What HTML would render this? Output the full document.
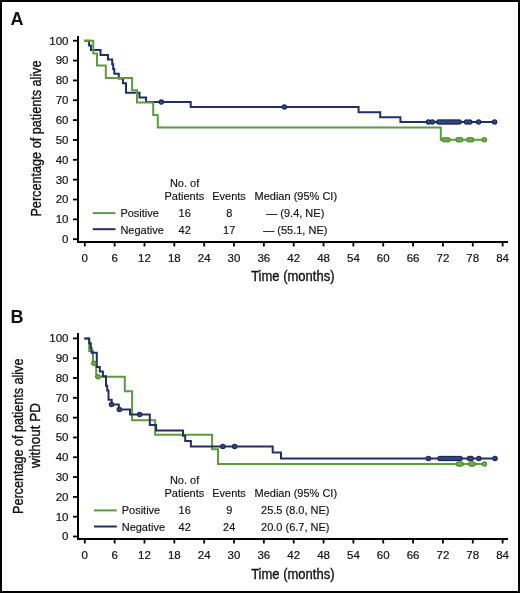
<!DOCTYPE html>
<html><head><meta charset="utf-8"><style>
html,body{margin:0;padding:0;background:#fff;}
svg{display:block;}
text{font-family:"Liberation Sans",sans-serif;fill:#111;}
.lab{font-size:18px;font-weight:bold;}
.tl{font-size:11.5px;stroke:#111;stroke-width:0.2px;}
.lg{font-size:11px;stroke:#111;stroke-width:0.15px;}
.at{font-size:14px;stroke:#111;stroke-width:0.35px;}
.ax{stroke:#000;stroke-width:2;fill:none;}
.tk{stroke:#000;stroke-width:1.8;fill:none;}
.g{filter:blur(0.4px);}
</style></head><body>
<svg width="520" height="593" viewBox="0 0 520 593">
<rect x="0" y="0" width="520" height="593" fill="#fff"/>
<g class="g">
<text x="10.6" y="24.8" class="lab">A</text>
<path d="M78,36V243M77,242H508" class="ax"/>
<path d="M73,40.70H77" class="tk"/>
<text x="68.5" y="44.60" class="tl" text-anchor="end">100</text>
<path d="M73,60.55H77" class="tk"/>
<text x="68.5" y="64.45" class="tl" text-anchor="end">90</text>
<path d="M73,80.40H77" class="tk"/>
<text x="68.5" y="84.30" class="tl" text-anchor="end">80</text>
<path d="M73,100.25H77" class="tk"/>
<text x="68.5" y="104.15" class="tl" text-anchor="end">70</text>
<path d="M73,120.10H77" class="tk"/>
<text x="68.5" y="124.00" class="tl" text-anchor="end">60</text>
<path d="M73,139.95H77" class="tk"/>
<text x="68.5" y="143.85" class="tl" text-anchor="end">50</text>
<path d="M73,159.80H77" class="tk"/>
<text x="68.5" y="163.70" class="tl" text-anchor="end">40</text>
<path d="M73,179.65H77" class="tk"/>
<text x="68.5" y="183.55" class="tl" text-anchor="end">30</text>
<path d="M73,199.50H77" class="tk"/>
<text x="68.5" y="203.40" class="tl" text-anchor="end">20</text>
<path d="M73,219.35H77" class="tk"/>
<text x="68.5" y="223.25" class="tl" text-anchor="end">10</text>
<path d="M73,239.20H77" class="tk"/>
<text x="68.5" y="243.10" class="tl" text-anchor="end">0</text>
<path d="M84.80,243V246.5" class="tk"/>
<text x="84.80" y="261.5" class="tl" text-anchor="middle">0</text>
<path d="M114.64,243V246.5" class="tk"/>
<text x="114.64" y="261.5" class="tl" text-anchor="middle">6</text>
<path d="M144.49,243V246.5" class="tk"/>
<text x="144.49" y="261.5" class="tl" text-anchor="middle">12</text>
<path d="M174.33,243V246.5" class="tk"/>
<text x="174.33" y="261.5" class="tl" text-anchor="middle">18</text>
<path d="M204.18,243V246.5" class="tk"/>
<text x="204.18" y="261.5" class="tl" text-anchor="middle">24</text>
<path d="M234.02,243V246.5" class="tk"/>
<text x="234.02" y="261.5" class="tl" text-anchor="middle">30</text>
<path d="M263.86,243V246.5" class="tk"/>
<text x="263.86" y="261.5" class="tl" text-anchor="middle">36</text>
<path d="M293.71,243V246.5" class="tk"/>
<text x="293.71" y="261.5" class="tl" text-anchor="middle">42</text>
<path d="M323.55,243V246.5" class="tk"/>
<text x="323.55" y="261.5" class="tl" text-anchor="middle">48</text>
<path d="M353.40,243V246.5" class="tk"/>
<text x="353.40" y="261.5" class="tl" text-anchor="middle">54</text>
<path d="M383.24,243V246.5" class="tk"/>
<text x="383.24" y="261.5" class="tl" text-anchor="middle">60</text>
<path d="M413.08,243V246.5" class="tk"/>
<text x="413.08" y="261.5" class="tl" text-anchor="middle">66</text>
<path d="M442.93,243V246.5" class="tk"/>
<text x="442.93" y="261.5" class="tl" text-anchor="middle">72</text>
<path d="M472.77,243V246.5" class="tk"/>
<text x="472.77" y="261.5" class="tl" text-anchor="middle">78</text>
<path d="M502.62,243V246.5" class="tk"/>
<text x="502.62" y="261.5" class="tl" text-anchor="middle">84</text>
<text transform="translate(292.8,280.8) scale(0.93,1)" class="at" text-anchor="middle">Time (months)</text>
<text transform="translate(40.5,138.5) rotate(-90) scale(0.8678,1)" class="at" style="font-size:14.6px" text-anchor="middle">Percentage of patients alive</text>
<text x="184.6" y="186.7" class="lg" text-anchor="middle">No. of</text>
<text x="184.4" y="199.6" class="lg" text-anchor="middle">Patients</text>
<text x="229" y="199.6" class="lg" text-anchor="middle">Events</text>
<text x="295.8" y="199.6" class="lg" text-anchor="middle">Median (95% CI)</text>
<path d="M92.7,213.1H115.5" stroke="#5e9a40" stroke-width="2" fill="none"/>
<path d="M92.7,229.2H115.5" stroke="#232f62" stroke-width="2" fill="none"/>
<text x="120.4" y="216.5" class="lg">Positive</text>
<text x="120.4" y="233.5" class="lg">Negative</text>
<text x="184.7" y="216.5" class="lg" text-anchor="middle">16</text>
<text x="229.2" y="216.5" class="lg" text-anchor="middle">8</text>
<text x="295.3" y="216.5" class="lg" text-anchor="middle">— (9.4, NE)</text>
<text x="184.7" y="233.5" class="lg" text-anchor="middle">42</text>
<text x="229.2" y="233.5" class="lg" text-anchor="middle">17</text>
<text x="295.3" y="233.5" class="lg" text-anchor="middle">— (55.1, NE)</text>
<path d="M84.3,40.8H89.1V45.4H90.9V50.1H100.5V54.9H108.0V59.6H112.2V64.3H113.2V69.1H114.3V73.8H118.8V78.5H123.0V83.2H126.0V88.0H126.0V92.7H139.5V97.4H146.1V102.1H190.7V107.0H358.6V112.2H380.2V117.2H400.4V121.9H494.5" stroke="#232f62" stroke-width="2" fill="none" stroke-linejoin="miter" stroke-linecap="butt"/>
<path d="M84.3,40.8H93.3V53.4H97.0V65.5H105.8V77.9H132.1V90.3H137.0V102.6H153.2V115.0H157.8V127.5H440.8V139.8H484.3" stroke="#5e9a40" stroke-width="2" fill="none" stroke-linejoin="miter" stroke-linecap="butt"/>
<circle cx="161.30" cy="102.1" r="2.75" fill="#1b2655"/>
<circle cx="284.30" cy="107.0" r="2.75" fill="#1b2655"/>
<circle cx="428.50" cy="121.9" r="2.75" fill="#1b2655"/>
<circle cx="432.30" cy="121.9" r="2.75" fill="#1b2655"/>
<circle cx="438.90" cy="121.9" r="2.75" fill="#1b2655"/>
<circle cx="441.42" cy="121.9" r="2.75" fill="#1b2655"/>
<circle cx="443.95" cy="121.9" r="2.75" fill="#1b2655"/>
<circle cx="446.47" cy="121.9" r="2.75" fill="#1b2655"/>
<circle cx="449.00" cy="121.9" r="2.75" fill="#1b2655"/>
<circle cx="451.52" cy="121.9" r="2.75" fill="#1b2655"/>
<circle cx="454.05" cy="121.9" r="2.75" fill="#1b2655"/>
<circle cx="456.57" cy="121.9" r="2.75" fill="#1b2655"/>
<circle cx="459.10" cy="121.9" r="2.75" fill="#1b2655"/>
<circle cx="466.50" cy="121.9" r="2.75" fill="#1b2655"/>
<circle cx="469.80" cy="121.9" r="2.75" fill="#1b2655"/>
<circle cx="478.60" cy="121.9" r="2.75" fill="#1b2655"/>
<circle cx="494.60" cy="121.9" r="2.75" fill="#1b2655"/>
<circle cx="444.30" cy="139.8" r="2.75" fill="#4a8a30"/>
<circle cx="447.80" cy="139.8" r="2.75" fill="#4a8a30"/>
<circle cx="458.20" cy="139.8" r="2.75" fill="#4a8a30"/>
<circle cx="460.50" cy="139.8" r="2.75" fill="#4a8a30"/>
<circle cx="469.00" cy="139.8" r="2.75" fill="#4a8a30"/>
<circle cx="471.50" cy="139.8" r="2.75" fill="#4a8a30"/>
<circle cx="484.30" cy="139.8" r="2.75" fill="#4a8a30"/>
<circle cx="161.30" cy="102.1" r="1.7" fill="#33477f"/>
<circle cx="284.30" cy="107.0" r="1.7" fill="#33477f"/>
<circle cx="428.50" cy="121.9" r="1.7" fill="#33477f"/>
<circle cx="432.30" cy="121.9" r="1.7" fill="#33477f"/>
<circle cx="438.90" cy="121.9" r="1.7" fill="#33477f"/>
<circle cx="441.42" cy="121.9" r="1.7" fill="#33477f"/>
<circle cx="443.95" cy="121.9" r="1.7" fill="#33477f"/>
<circle cx="446.47" cy="121.9" r="1.7" fill="#33477f"/>
<circle cx="449.00" cy="121.9" r="1.7" fill="#33477f"/>
<circle cx="451.52" cy="121.9" r="1.7" fill="#33477f"/>
<circle cx="454.05" cy="121.9" r="1.7" fill="#33477f"/>
<circle cx="456.57" cy="121.9" r="1.7" fill="#33477f"/>
<circle cx="459.10" cy="121.9" r="1.7" fill="#33477f"/>
<circle cx="466.50" cy="121.9" r="1.7" fill="#33477f"/>
<circle cx="469.80" cy="121.9" r="1.7" fill="#33477f"/>
<circle cx="478.60" cy="121.9" r="1.7" fill="#33477f"/>
<circle cx="494.60" cy="121.9" r="1.7" fill="#33477f"/>
<circle cx="444.30" cy="139.8" r="1.7" fill="#6fb04c"/>
<circle cx="447.80" cy="139.8" r="1.7" fill="#6fb04c"/>
<circle cx="458.20" cy="139.8" r="1.7" fill="#6fb04c"/>
<circle cx="460.50" cy="139.8" r="1.7" fill="#6fb04c"/>
<circle cx="469.00" cy="139.8" r="1.7" fill="#6fb04c"/>
<circle cx="471.50" cy="139.8" r="1.7" fill="#6fb04c"/>
<circle cx="484.30" cy="139.8" r="1.7" fill="#6fb04c"/>
<text x="10.6" y="323.0" class="lab">B</text>
<path d="M78,333V540M77,539H508" class="ax"/>
<path d="M73,338.40H77" class="tk"/>
<text x="68.5" y="342.30" class="tl" text-anchor="end">100</text>
<path d="M73,358.21H77" class="tk"/>
<text x="68.5" y="362.11" class="tl" text-anchor="end">90</text>
<path d="M73,378.02H77" class="tk"/>
<text x="68.5" y="381.92" class="tl" text-anchor="end">80</text>
<path d="M73,397.83H77" class="tk"/>
<text x="68.5" y="401.73" class="tl" text-anchor="end">70</text>
<path d="M73,417.64H77" class="tk"/>
<text x="68.5" y="421.54" class="tl" text-anchor="end">60</text>
<path d="M73,437.45H77" class="tk"/>
<text x="68.5" y="441.35" class="tl" text-anchor="end">50</text>
<path d="M73,457.26H77" class="tk"/>
<text x="68.5" y="461.16" class="tl" text-anchor="end">40</text>
<path d="M73,477.07H77" class="tk"/>
<text x="68.5" y="480.97" class="tl" text-anchor="end">30</text>
<path d="M73,496.88H77" class="tk"/>
<text x="68.5" y="500.78" class="tl" text-anchor="end">20</text>
<path d="M73,516.69H77" class="tk"/>
<text x="68.5" y="520.59" class="tl" text-anchor="end">10</text>
<path d="M73,536.50H77" class="tk"/>
<text x="68.5" y="540.40" class="tl" text-anchor="end">0</text>
<path d="M84.80,540V543.5" class="tk"/>
<text x="84.80" y="558.8" class="tl" text-anchor="middle">0</text>
<path d="M114.64,540V543.5" class="tk"/>
<text x="114.64" y="558.8" class="tl" text-anchor="middle">6</text>
<path d="M144.49,540V543.5" class="tk"/>
<text x="144.49" y="558.8" class="tl" text-anchor="middle">12</text>
<path d="M174.33,540V543.5" class="tk"/>
<text x="174.33" y="558.8" class="tl" text-anchor="middle">18</text>
<path d="M204.18,540V543.5" class="tk"/>
<text x="204.18" y="558.8" class="tl" text-anchor="middle">24</text>
<path d="M234.02,540V543.5" class="tk"/>
<text x="234.02" y="558.8" class="tl" text-anchor="middle">30</text>
<path d="M263.86,540V543.5" class="tk"/>
<text x="263.86" y="558.8" class="tl" text-anchor="middle">36</text>
<path d="M293.71,540V543.5" class="tk"/>
<text x="293.71" y="558.8" class="tl" text-anchor="middle">42</text>
<path d="M323.55,540V543.5" class="tk"/>
<text x="323.55" y="558.8" class="tl" text-anchor="middle">48</text>
<path d="M353.40,540V543.5" class="tk"/>
<text x="353.40" y="558.8" class="tl" text-anchor="middle">54</text>
<path d="M383.24,540V543.5" class="tk"/>
<text x="383.24" y="558.8" class="tl" text-anchor="middle">60</text>
<path d="M413.08,540V543.5" class="tk"/>
<text x="413.08" y="558.8" class="tl" text-anchor="middle">66</text>
<path d="M442.93,540V543.5" class="tk"/>
<text x="442.93" y="558.8" class="tl" text-anchor="middle">72</text>
<path d="M472.77,540V543.5" class="tk"/>
<text x="472.77" y="558.8" class="tl" text-anchor="middle">78</text>
<path d="M502.62,540V543.5" class="tk"/>
<text x="502.62" y="558.8" class="tl" text-anchor="middle">84</text>
<text transform="translate(292.8,578.8000000000001) scale(0.93,1)" class="at" text-anchor="middle">Time (months)</text>
<text transform="translate(22.8,436.3) rotate(-90) scale(0.8630,1)" class="at" style="font-size:14.6px" text-anchor="middle">Percentage of patients alive</text>
<text transform="translate(40.4,435.6) rotate(-90) scale(0.9205,1)" class="at" style="font-size:14.6px" text-anchor="middle">without PD</text>
<text x="184.6" y="484.0" class="lg" text-anchor="middle">No. of</text>
<text x="184.4" y="496.9" class="lg" text-anchor="middle">Patients</text>
<text x="229" y="496.9" class="lg" text-anchor="middle">Events</text>
<text x="295.8" y="496.9" class="lg" text-anchor="middle">Median (95% CI)</text>
<path d="M94.0,510.4H116.8" stroke="#5e9a40" stroke-width="2" fill="none"/>
<path d="M94.0,526.5H116.8" stroke="#232f62" stroke-width="2" fill="none"/>
<text x="121.7" y="513.8" class="lg">Positive</text>
<text x="121.7" y="530.8" class="lg">Negative</text>
<text x="184.7" y="513.8" class="lg" text-anchor="middle">16</text>
<text x="229.2" y="513.8" class="lg" text-anchor="middle">9</text>
<text x="295.3" y="513.8" class="lg" text-anchor="middle">25.5 (8.0, NE)</text>
<text x="184.7" y="530.8" class="lg" text-anchor="middle">42</text>
<text x="229.2" y="530.8" class="lg" text-anchor="middle">24</text>
<text x="295.3" y="530.8" class="lg" text-anchor="middle">20.0 (6.7, NE)</text>
<path d="M84.3,338.6H89.2V351.0H93.0V363.3H96.2V376.7H124.8V391.2H132.1V420.3H155.2V434.8H212.1V449.3H218.0V463.9H484.3" stroke="#5e9a40" stroke-width="2" fill="none" stroke-linejoin="miter" stroke-linecap="butt"/>
<path d="M84.3,338.6H89.2V343.3H90.8V348.0H91.5V352.7H96.8V366.9H99.8V371.6H102.9V376.3H106.0V385.7H107.2V390.4H108.5V399.8H111.7V404.6H118.8V409.4H130.0V414.5H149.8V425.1H156.1V430.4H183.0V435.7H185.2V441.1H190.9V446.4H272.7V452.4H281.0V458.4H494.8" stroke="#232f62" stroke-width="2" fill="none" stroke-linejoin="miter" stroke-linecap="butt"/>
<circle cx="111.50" cy="404.6" r="2.75" fill="#1b2655"/>
<circle cx="119.30" cy="409.4" r="2.75" fill="#1b2655"/>
<circle cx="139.60" cy="414.5" r="2.75" fill="#1b2655"/>
<circle cx="222.80" cy="446.4" r="2.75" fill="#1b2655"/>
<circle cx="234.60" cy="446.4" r="2.75" fill="#1b2655"/>
<circle cx="93.80" cy="363.3" r="2.75" fill="#4a8a30"/>
<circle cx="98.00" cy="376.7" r="2.75" fill="#4a8a30"/>
<circle cx="428.40" cy="458.4" r="2.75" fill="#1b2655"/>
<circle cx="440.00" cy="458.4" r="2.75" fill="#1b2655"/>
<circle cx="442.50" cy="458.4" r="2.75" fill="#1b2655"/>
<circle cx="445.00" cy="458.4" r="2.75" fill="#1b2655"/>
<circle cx="447.50" cy="458.4" r="2.75" fill="#1b2655"/>
<circle cx="450.00" cy="458.4" r="2.75" fill="#1b2655"/>
<circle cx="452.50" cy="458.4" r="2.75" fill="#1b2655"/>
<circle cx="455.00" cy="458.4" r="2.75" fill="#1b2655"/>
<circle cx="457.50" cy="458.4" r="2.75" fill="#1b2655"/>
<circle cx="460.00" cy="458.4" r="2.75" fill="#1b2655"/>
<circle cx="469.50" cy="458.4" r="2.75" fill="#1b2655"/>
<circle cx="471.20" cy="458.4" r="2.75" fill="#1b2655"/>
<circle cx="478.80" cy="458.4" r="2.75" fill="#1b2655"/>
<circle cx="495.00" cy="458.4" r="2.75" fill="#1b2655"/>
<circle cx="458.50" cy="463.9" r="2.75" fill="#4a8a30"/>
<circle cx="461.00" cy="463.9" r="2.75" fill="#4a8a30"/>
<circle cx="471.00" cy="463.9" r="2.75" fill="#4a8a30"/>
<circle cx="473.00" cy="463.9" r="2.75" fill="#4a8a30"/>
<circle cx="484.40" cy="463.9" r="2.75" fill="#4a8a30"/>
<circle cx="111.50" cy="404.6" r="1.7" fill="#33477f"/>
<circle cx="119.30" cy="409.4" r="1.7" fill="#33477f"/>
<circle cx="139.60" cy="414.5" r="1.7" fill="#33477f"/>
<circle cx="222.80" cy="446.4" r="1.7" fill="#33477f"/>
<circle cx="234.60" cy="446.4" r="1.7" fill="#33477f"/>
<circle cx="93.80" cy="363.3" r="1.7" fill="#6fb04c"/>
<circle cx="98.00" cy="376.7" r="1.7" fill="#6fb04c"/>
<circle cx="428.40" cy="458.4" r="1.7" fill="#33477f"/>
<circle cx="440.00" cy="458.4" r="1.7" fill="#33477f"/>
<circle cx="442.50" cy="458.4" r="1.7" fill="#33477f"/>
<circle cx="445.00" cy="458.4" r="1.7" fill="#33477f"/>
<circle cx="447.50" cy="458.4" r="1.7" fill="#33477f"/>
<circle cx="450.00" cy="458.4" r="1.7" fill="#33477f"/>
<circle cx="452.50" cy="458.4" r="1.7" fill="#33477f"/>
<circle cx="455.00" cy="458.4" r="1.7" fill="#33477f"/>
<circle cx="457.50" cy="458.4" r="1.7" fill="#33477f"/>
<circle cx="460.00" cy="458.4" r="1.7" fill="#33477f"/>
<circle cx="469.50" cy="458.4" r="1.7" fill="#33477f"/>
<circle cx="471.20" cy="458.4" r="1.7" fill="#33477f"/>
<circle cx="478.80" cy="458.4" r="1.7" fill="#33477f"/>
<circle cx="495.00" cy="458.4" r="1.7" fill="#33477f"/>
<circle cx="458.50" cy="463.9" r="1.7" fill="#6fb04c"/>
<circle cx="461.00" cy="463.9" r="1.7" fill="#6fb04c"/>
<circle cx="471.00" cy="463.9" r="1.7" fill="#6fb04c"/>
<circle cx="473.00" cy="463.9" r="1.7" fill="#6fb04c"/>
<circle cx="484.40" cy="463.9" r="1.7" fill="#6fb04c"/>
</g>
<rect x="1" y="1" width="518" height="591" fill="none" stroke="#000" stroke-width="2"/>
</svg>
</body></html>
